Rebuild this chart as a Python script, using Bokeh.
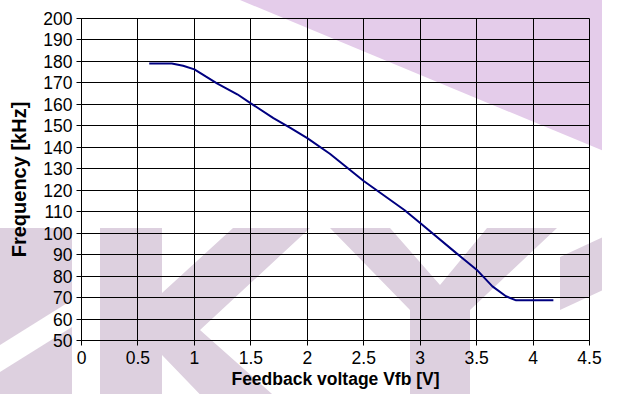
from urllib.parse import quote
from bokeh.plotting import figure
from bokeh.models import FixedTicker, Range1d
from bokeh.embed import file_html
from bokeh.resources import INLINE

# ---- data ----
voltage = [0.6, 0.8, 0.9, 1.0, 1.1, 1.2, 1.38, 1.5, 1.7, 1.85, 2.0, 2.2,
           2.5, 2.86, 3.0, 3.32, 3.5, 3.64, 3.76, 3.85, 4.18]
frequency = [179, 179, 178, 176.3, 173, 169.8, 164.7, 160.5, 153.6, 149,
             144.3, 137, 124.3, 110.8, 104.7, 90.7, 83, 75.2, 70.6, 68.7, 68.7]

x_ticks = [0, 0.5, 1, 1.5, 2, 2.5, 3, 3.5, 4, 4.5]
x_tick_labels = ["0", "0.5", "1", "1.5", "2", "2.5", "3", "3.5", "4", "4.5"]
y_ticks = [50, 60, 70, 80, 90, 100, 110, 120, 130, 140, 150, 160, 170, 180, 190, 200]
y_tick_labels = [str(v) for v in y_ticks]

x_title = "Feedback voltage Vfb [V]"
y_title = "Frequency [kHz]"

W, H = 602, 394

# ---- background watermark (page decoration, pixel coordinates) ----
wm_light = [
    [(240, 0), (618, 0), (618, 157)],
]
wm_grey = [
    [(100, 228), (162, 228), (162, 293), (233, 228), (310, 228), (200, 330),
     (290, 410), (215, 410), (162, 355), (162, 410), (100, 410)],
    [(330, 228), (390, 228), (440, 285), (487, 228), (557, 228), (470, 310),
     (470, 410), (410, 410), (410, 310)],
    [(560, 257), (618, 230), (618, 283), (560, 310)],
    [(0, 228), (72, 228), (72, 300), (0, 345)],
    [(0, 372), (72, 327), (72, 410), (0, 410)],
]


def svg_polys(polys, colour):
    out = []
    for poly in polys:
        pts = " ".join(f"{x},{y}" for x, y in poly)
        out.append(f'<polygon points="{pts}" fill="{colour}"/>')
    return "".join(out)


svg = (f'<svg xmlns="http://www.w3.org/2000/svg" width="{W}" height="{H}">'
       f'<rect width="{W}" height="{H}" fill="white"/>'
       + svg_polys(wm_light, "#e4ccea") + svg_polys(wm_grey, "#ddd0df")
       + '</svg>')
bg_url = "data:image/svg+xml;charset=utf-8," + quote(svg)

p = figure(width=W, height=H, output_backend="svg", toolbar_location=None,
           x_range=Range1d(0, 4.5), y_range=Range1d(50, 200),
           min_border_left=81, min_border_right=13, min_border_top=18,
           min_border_bottom=54)
p.background_fill_color = None
p.border_fill_color = None
p.styles = {"background-color": "white",
            "background-image": f'url("{bg_url}")',
            "background-repeat": "no-repeat",
            "background-position": "0 0"}
p.outline_line_color = "black"
p.outline_line_width = 1

p.line(voltage, frequency, line_color="#000080", line_width=2)

p.xaxis.ticker = FixedTicker(ticks=x_ticks)
p.yaxis.ticker = FixedTicker(ticks=y_ticks)
p.xgrid.ticker = FixedTicker(ticks=x_ticks)
p.ygrid.ticker = FixedTicker(ticks=y_ticks)
p.xaxis.major_label_overrides = dict(zip(x_ticks, x_tick_labels))
p.yaxis.major_label_overrides = dict(zip(y_ticks, y_tick_labels))

for g in (p.xgrid, p.ygrid):
    g.grid_line_color = "black"
    g.grid_line_alpha = 1.0
    g.grid_line_width = 1

for ax in (p.xaxis, p.yaxis):
    ax.axis_line_color = "black"
    ax.major_tick_line_color = "black"
    ax.minor_tick_line_color = None
    ax.major_tick_in = 0
    ax.major_tick_out = 5
    ax.major_label_text_font = "Liberation Sans"
    ax.major_label_text_font_size = "17.5px"
    ax.major_label_text_color = "black"
    ax.axis_label_text_font = "Liberation Sans"
    ax.axis_label_text_font_style = "bold"
    ax.axis_label_text_color = "black"

p.xaxis.axis_label = x_title
p.yaxis.axis_label = y_title
p.xaxis.major_label_standoff = 5
p.xaxis.axis_label_standoff = 2
p.xaxis.axis_label_text_font_size = "17.5px"
p.yaxis.major_label_standoff = 4
p.yaxis.axis_label_standoff = 10
p.yaxis.axis_label_text_font_size = "20px"

open("out.html", "w").write(file_html(p, INLINE))
